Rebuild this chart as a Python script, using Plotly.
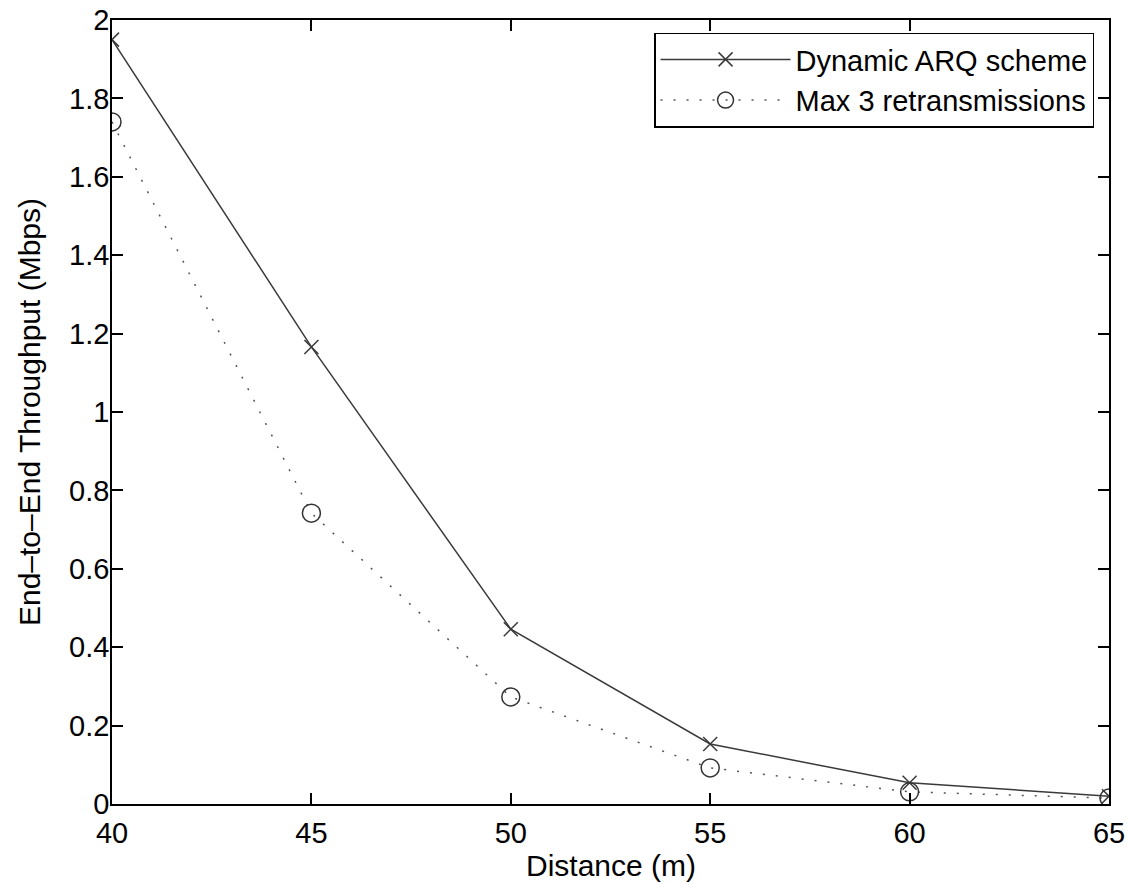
import plotly.graph_objects as go

distance = [40, 45, 50, 55, 60, 65]
dynamic_arq = [1.95, 1.166, 0.446, 0.153, 0.054, 0.02]
max3_retx = [1.74, 0.742, 0.273, 0.092, 0.031, 0.015]
x_ticks = [40, 45, 50, 55, 60, 65]
y_ticks = [0, 0.2, 0.4, 0.6, 0.8, 1, 1.2, 1.4, 1.6, 1.8, 2]
x_title = "Distance (m)"
y_title = "End\u2013to\u2013End Throughput (Mbps)"

FONT = "Liberation Sans, Arial, sans-serif"

fig = go.Figure()
fig.add_trace(go.Scatter(
    x=distance, y=dynamic_arq, mode="lines+markers", name="Dynamic ARQ scheme",
    line=dict(color="#3a3a3a", width=1.5, dash="solid"),
    marker=dict(symbol="x-thin-open", size=14, line=dict(color="#333333", width=1.5)),
))
fig.add_trace(go.Scatter(
    x=distance, y=max3_retx, mode="lines+markers", name="Max 3 retransmissions",
    line=dict(color="#555555", width=1.5, dash="2px,11px"),
    marker=dict(symbol="circle-open", size=18, color="#333333", line=dict(color="#333333", width=1.5)),
))

axis_common = dict(
    showline=True, linecolor="black", linewidth=1.5, mirror="allticks",
    ticks="inside", ticklen=11, tickwidth=1.5, tickcolor="black",
    showgrid=False, zeroline=False, automargin=False,
    ticklabeloverflow="allow",
    tickfont=dict(family=FONT, size=29, color="black"),
)

fig.update_xaxes(
    range=[40, 65], tickvals=x_ticks, ticktext=[str(v) for v in x_ticks],
    ticklabelstandoff=2,
    **axis_common,
)
fig.update_yaxes(
    range=[0, 2], tickvals=y_ticks, ticktext=[("%g" % v) for v in y_ticks],
    ticklabelstandoff=-5,
    title=dict(text=y_title, font=dict(family=FONT, size=30, color="black"), standoff=20),
    **axis_common,
)

fig.add_annotation(
    text=x_title, xref="paper", yref="paper", x=0.5, y=-0.079,
    xanchor="center", yanchor="middle", showarrow=False,
    font=dict(family=FONT, size=30, color="black"),
)

fig.update_layout(
    width=1129, height=884,
    margin=dict(l=112, r=20, t=20, b=80),
    paper_bgcolor="white", plot_bgcolor="white",
    font=dict(family=FONT, color="black"),
    legend=dict(
        x=0.985, y=0.984, xanchor="right", yanchor="top",
        bgcolor="white", bordercolor="black", borderwidth=1.5,
        font=dict(family=FONT, size=29, color="black"),
        itemwidth=130, tracegroupgap=0,
    ),
    showlegend=True,
)

# remove the default 8px page margin so the figure fills the window exactly
fig.write_html("out.html", config={"displayModeBar": False},
               post_script="document.body.style.margin='0';")
